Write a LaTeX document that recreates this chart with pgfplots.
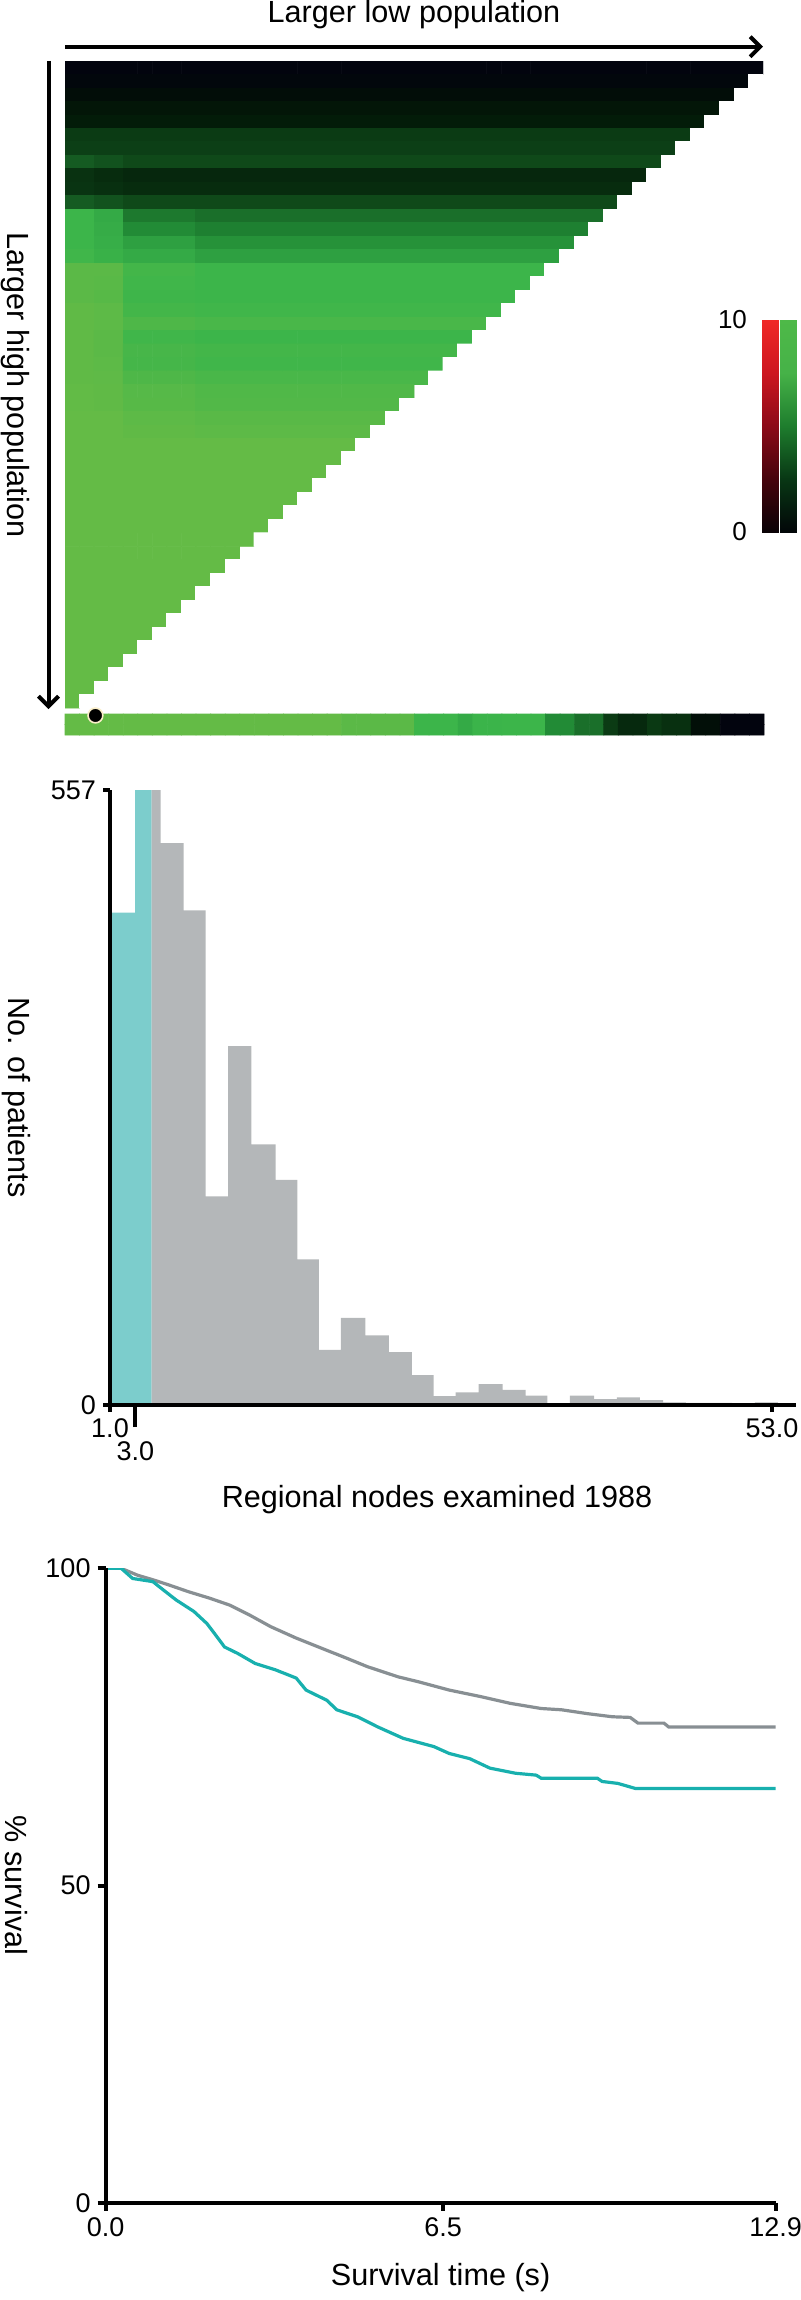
\documentclass[border=0pt]{standalone}
\usepackage{pgfplots}
\pgfplotsset{compat=1.18}
\usepackage{fontspec}
\setmainfont{Liberation Sans}
\usetikzlibrary{arrows.meta}

\definecolor{cyanbar}{RGB}{124,205,204}
\definecolor{graybar}{RGB}{180,183,185}
\definecolor{tealline}{RGB}{24,176,174}
\definecolor{grayline}{RGB}{136,143,147}

% value -1 = empty cell (white), 0..10 = black to green
\pgfplotsset{
  colormap={redbar}{rgb255=(10,2,6) rgb255=(70,3,12) rgb255=(140,10,24) rgb255=(205,22,32) rgb255=(240,40,38)},
  colormap={greenbar}{rgb255=(2,6,8) rgb255=(8,55,20) rgb255=(30,125,45) rgb255=(70,178,72) rgb255=(78,185,72)},
  colormap={heat}{rgb255=(255,255,255) rgb255=(2,4,14) rgb255=(2,12,8) rgb255=(3,26,8) rgb255=(8,48,16) rgb255=(14,70,24) rgb255=(24,100,38) rgb255=(32,135,52) rgb255=(52,170,70) rgb255=(60,181,74) rgb255=(82,184,72) rgb255=(100,187,70)},
}

\newcommand\lbl{\fontsize{15.3}{18}\selectfont}
\newcommand\tck{\fontsize{13.5}{16}\selectfont}

\begin{document}
\begin{tikzpicture}

% ---------- panel 1: cut-point matrix ----------
\node[anchor=base, font=\lbl] at (207pt,-11.5pt) {Larger low population};
\draw[line width=2pt, -{Straight Barb[length=5pt,width=10pt]}] (32.5pt,-23.35pt) -- (381.5pt,-23.35pt);
\draw[line width=2pt, -{Straight Barb[length=5pt,width=10pt]}] (24.25pt,-30.5pt) -- (24.25pt,-354.5pt);
\node[font=\lbl, rotate=-90] at (7.5pt,-192.5pt) {Larger high population};

\begin{axis}[
  at={(32.5pt,-30.5pt)}, anchor=north west,
  width=349pt, height=323.5pt, scale only axis, hide axis,
  xmin=-0.5, xmax=47.5, ymin=-0.5, ymax=47.5, y dir=reverse,
  colormap name=heat, point meta min=-1, point meta max=10,
]
% rows 0-23
\addplot[matrix plot*, mesh/cols=48, mesh/rows=24, point meta=explicit]
  table[header=false, row sep=\\, x expr={\coordindex-48*floor((\coordindex+0.5)/48)}, y expr={floor((\coordindex+0.5)/48)}, meta index=0] {
0\\0\\0\\0\\0\\0\\0\\0\\ 0\\0\\0\\0\\0\\0\\0\\0\\ 0\\0\\0\\0\\0\\0\\0\\0\\ 0\\0\\0\\0\\0\\0\\0\\0\\ 0\\0\\0\\0\\0\\0\\0\\0\\ 0\\0\\0\\0\\0\\0\\0\\0\\
0.4\\0.4\\0.4\\0.4\\0.4\\0.4\\0.4\\0.4\\ 0.4\\0.4\\0.4\\0.4\\0.4\\0.4\\0.4\\0.4\\ 0.4\\0.4\\0.4\\0.4\\0.4\\0.4\\0.4\\0.4\\ 0.4\\0.4\\0.4\\0.4\\0.4\\0.4\\0.4\\0.4\\ 0.4\\0.4\\0.4\\0.4\\0.4\\0.4\\0.4\\0.4\\ 0.4\\0.4\\0.4\\0.4\\0.4\\0.4\\0.4\\ -1\\
1.1\\1.1\\1.1\\1.1\\1.1\\1.1\\1.1\\1.1\\ 1.1\\1.1\\1.1\\1.1\\1.1\\1.1\\1.1\\1.1\\ 1.1\\1.1\\1.1\\1.1\\1.1\\1.1\\1.1\\1.1\\ 1.1\\1.1\\1.1\\1.1\\1.1\\1.1\\1.1\\1.1\\ 1.1\\1.1\\1.1\\1.1\\1.1\\1.1\\1.1\\1.1\\ 1.1\\1.1\\1.1\\1.1\\1.1\\1.1\\ -1\\-1\\
1.7\\1.7\\1.7\\1.7\\1.7\\1.7\\1.7\\1.7\\ 1.7\\1.7\\1.7\\1.7\\1.7\\1.7\\1.7\\1.7\\ 1.7\\1.7\\1.7\\1.7\\1.7\\1.7\\1.7\\1.7\\ 1.7\\1.7\\1.7\\1.7\\1.7\\1.7\\1.7\\1.7\\ 1.7\\1.7\\1.7\\1.7\\1.7\\1.7\\1.7\\1.7\\ 1.7\\1.7\\1.7\\1.7\\1.7\\ -1\\-1\\-1\\
2.1\\2.1\\2.1\\2.1\\2.1\\2.1\\2.1\\2.1\\ 2.1\\2.1\\2.1\\2.1\\2.1\\2.1\\2.1\\2.1\\ 2.1\\2.1\\2.1\\2.1\\2.1\\2.1\\2.1\\2.1\\ 2.1\\2.1\\2.1\\2.1\\2.1\\2.1\\2.1\\2.1\\ 2.1\\2.1\\2.1\\2.1\\2.1\\2.1\\2.1\\2.1\\ 2.1\\2.1\\2.1\\2.1\\ -1\\-1\\-1\\-1\\
3.5\\3.5\\3.5\\3.5\\3.5\\3.5\\3.5\\3.5\\ 3.5\\3.5\\3.5\\3.5\\3.5\\3.5\\3.5\\3.5\\ 3.5\\3.5\\3.5\\3.5\\3.5\\3.5\\3.5\\3.5\\ 3.5\\3.5\\3.5\\3.5\\3.5\\3.5\\3.5\\3.5\\ 3.5\\3.5\\3.5\\3.5\\3.5\\3.5\\3.5\\3.5\\ 3.5\\3.5\\3.5\\ -1\\-1\\-1\\-1\\-1\\
3.7\\3.7\\3.7\\3.7\\3.7\\3.7\\3.7\\3.7\\ 3.7\\3.7\\3.7\\3.7\\3.7\\3.7\\3.7\\3.7\\ 3.7\\3.7\\3.7\\3.7\\3.7\\3.7\\3.7\\3.7\\ 3.7\\3.7\\3.7\\3.7\\3.7\\3.7\\3.7\\3.7\\ 3.7\\3.7\\3.7\\3.7\\3.7\\3.7\\3.7\\3.7\\ 3.7\\3.7\\ -1\\-1\\-1\\-1\\-1\\-1\\
4.7\\4.7\\4.4\\4.4\\ 4.1\\4.1\\4.1\\4.1\\4.1\\4.1\\4.1\\4.1\\ 4.1\\4.1\\4.1\\4.1\\4.1\\4.1\\4.1\\4.1\\ 4.1\\4.1\\4.1\\4.1\\4.1\\4.1\\4.1\\4.1\\ 4.1\\4.1\\4.1\\4.1\\4.1\\4.1\\4.1\\4.1\\ 4.1\\4.1\\4.1\\4.1\\4.1\\ -1\\-1\\-1\\-1\\-1\\-1\\-1\\
3.1\\3.1\\2.8\\2.8\\ 2.6\\2.6\\2.6\\2.6\\2.6\\2.6\\2.6\\2.6\\ 2.6\\2.6\\2.6\\2.6\\2.6\\2.6\\2.6\\2.6\\ 2.6\\2.6\\2.6\\2.6\\2.6\\2.6\\2.6\\2.6\\ 2.6\\2.6\\2.6\\2.6\\2.6\\2.6\\2.6\\2.6\\ 2.6\\2.6\\2.6\\2.6\\ -1\\-1\\-1\\-1\\-1\\-1\\-1\\-1\\
3.2\\3.2\\3\\3\\ 2.8\\2.8\\2.8\\2.8\\2.8\\2.8\\2.8\\2.8\\ 2.8\\2.8\\2.8\\2.8\\2.8\\2.8\\2.8\\2.8\\ 2.8\\2.8\\2.8\\2.8\\2.8\\2.8\\2.8\\2.8\\ 2.8\\2.8\\2.8\\2.8\\2.8\\2.8\\2.8\\2.8\\ 2.8\\2.8\\2.8\\ -1\\-1\\-1\\-1\\-1\\-1\\-1\\-1\\-1\\
4.7\\4.7\\4.4\\4.4\\ 4.1\\4.1\\4.1\\4.1\\4.1\\4.1\\4.1\\4.1\\ 4.1\\4.1\\4.1\\4.1\\4.1\\4.1\\4.1\\4.1\\ 4.1\\4.1\\4.1\\4.1\\4.1\\4.1\\4.1\\4.1\\ 4.1\\4.1\\4.1\\4.1\\4.1\\4.1\\4.1\\4.1\\ 4.1\\4.1\\ -1\\-1\\-1\\-1\\-1\\-1\\-1\\-1\\-1\\-1\\
8\\8\\7\\7\\ 5.6\\5.6\\5.6\\5.6\\5.6\\ 5.3\\5.3\\5.3\\5.3\\5.3\\5.3\\5.3\\5.3\\ 5.3\\5.3\\5.3\\5.3\\5.3\\5.3\\5.3\\5.3\\ 5.3\\5.3\\5.3\\5.3\\5.3\\5.3\\5.3\\5.3\\ 5.3\\5.3\\5.3\\5.3\\ -1\\-1\\-1\\-1\\-1\\-1\\-1\\-1\\ -1\\-1\\-1\\
8\\8\\7.2\\7.2\\ 6.1\\6.1\\6.1\\6.1\\6.1\\ 5.8\\5.8\\5.8\\5.8\\5.8\\5.8\\5.8\\5.8\\ 5.8\\5.8\\5.8\\5.8\\5.8\\5.8\\5.8\\5.8\\ 5.8\\5.8\\5.8\\5.8\\5.8\\5.8\\5.8\\5.8\\ 5.8\\5.8\\5.8\\ -1\\-1\\-1\\-1\\-1\\-1\\-1\\-1\\ -1\\-1\\-1\\-1\\
8\\8\\7.4\\7.4\\ 6.7\\6.7\\6.7\\6.7\\6.7\\ 6.3\\6.3\\6.3\\6.3\\6.3\\6.3\\6.3\\6.3\\ 6.3\\6.3\\6.3\\6.3\\6.3\\6.3\\6.3\\6.3\\ 6.3\\6.3\\6.3\\6.3\\6.3\\6.3\\6.3\\6.3\\ 6.3\\6.3\\ -1\\-1\\-1\\-1\\-1\\-1\\-1\\-1\\ -1\\-1\\-1\\-1\\-1\\
8.2\\8.2\\7.6\\7.6\\ 7\\7\\7\\7\\7\\ 6.7\\6.7\\6.7\\6.7\\6.7\\6.7\\6.7\\6.7\\ 6.7\\6.7\\6.7\\6.7\\6.7\\6.7\\6.7\\6.7\\ 6.7\\6.7\\6.7\\6.7\\6.7\\6.7\\6.7\\6.7\\ 6.7\\ -1\\-1\\-1\\-1\\-1\\-1\\-1\\-1\\ -1\\-1\\-1\\-1\\-1\\-1\\
9.5\\9.5\\9.5\\9.5\\ 8.3\\8.3\\8.3\\8.3\\8.3\\ 8\\8\\8\\8\\8\\8\\8\\8\\ 8\\8\\8\\8\\8\\8\\8\\8\\ 8\\8\\8\\8\\8\\8\\8\\8\\ -1\\-1\\-1\\-1\\-1\\-1\\-1\\-1\\ -1\\-1\\-1\\-1\\-1\\-1\\-1\\
9.5\\9.5\\9.4\\9.4\\ 8.2\\8.2\\8.2\\8.2\\8.2\\ 8\\8\\8\\8\\8\\8\\8\\8\\ 8\\8\\8\\8\\8\\8\\8\\8\\ 8\\8\\8\\8\\8\\8\\8\\ -1\\-1\\-1\\-1\\-1\\-1\\-1\\-1\\ -1\\-1\\-1\\-1\\-1\\-1\\-1\\-1\\
9.5\\9.5\\9.3\\9.3\\ 8.1\\8.1\\8.1\\8.1\\8.1\\ 8\\8\\8\\8\\8\\8\\8\\8\\ 8\\8\\8\\8\\8\\8\\8\\8\\ 8\\8\\8\\8\\8\\8\\ -1\\-1\\-1\\-1\\-1\\-1\\-1\\-1\\ -1\\-1\\-1\\-1\\-1\\-1\\-1\\-1\\ -1\\
9.8\\9.8\\9.6\\9.6\\ 8.3\\8.3\\8.3\\8.3\\8.3\\ 8.2\\8.2\\8.2\\8.2\\8.2\\8.2\\8.2\\8.2\\ 8.2\\8.2\\8.2\\8.2\\8.2\\8.2\\8.2\\8.2\\ 8.2\\8.2\\8.2\\8.2\\8.2\\ -1\\-1\\-1\\-1\\-1\\-1\\-1\\-1\\ -1\\-1\\-1\\-1\\-1\\-1\\-1\\-1\\ -1\\-1\\
9.8\\9.8\\9.6\\9.6\\ 8.8\\8.8\\8.8\\8.8\\8.8\\ 8.6\\8.6\\8.6\\8.6\\8.6\\8.6\\8.6\\8.6\\ 8.6\\8.6\\8.6\\8.6\\8.6\\8.6\\8.6\\8.6\\ 8.6\\8.6\\8.6\\8.6\\ -1\\-1\\-1\\-1\\-1\\-1\\-1\\-1\\ -1\\-1\\-1\\-1\\-1\\-1\\-1\\-1\\ -1\\-1\\-1\\
9.8\\9.8\\9.5\\9.5\\ 8.2\\8.2\\8.2\\8.2\\8.2\\ 8\\8\\8\\8\\8\\8\\8\\8\\ 8\\8\\8\\8\\8\\8\\8\\8\\ 8\\8\\8\\ -1\\-1\\-1\\-1\\-1\\-1\\-1\\-1\\ -1\\-1\\-1\\-1\\-1\\-1\\-1\\-1\\ -1\\-1\\-1\\-1\\
9.8\\9.8\\9.5\\9.5\\ 8.5\\8.5\\8.5\\8.5\\8.5\\ 8.3\\8.3\\8.3\\8.3\\8.3\\8.3\\8.3\\8.3\\ 8.3\\8.3\\8.3\\8.3\\8.3\\8.3\\8.3\\8.3\\ 8.3\\8.3\\ -1\\-1\\-1\\-1\\-1\\-1\\-1\\-1\\ -1\\-1\\-1\\-1\\-1\\-1\\-1\\-1\\ -1\\-1\\-1\\-1\\-1\\
9.8\\9.8\\9.6\\9.6\\ 8.4\\8.4\\8.4\\8.4\\8.4\\ 8.2\\8.2\\8.2\\8.2\\8.2\\8.2\\8.2\\8.2\\ 8.2\\8.2\\8.2\\8.2\\8.2\\8.2\\8.2\\8.2\\ 8.2\\ -1\\-1\\-1\\-1\\-1\\-1\\-1\\-1\\ -1\\-1\\-1\\-1\\-1\\-1\\-1\\-1\\ -1\\-1\\-1\\-1\\-1\\-1\\
9.8\\9.8\\9.7\\9.7\\ 8.8\\8.8\\8.8\\8.8\\8.8\\ 8.6\\8.6\\8.6\\8.6\\8.6\\8.6\\8.6\\8.6\\ 8.6\\8.6\\8.6\\8.6\\8.6\\8.6\\8.6\\8.6\\ -1\\-1\\-1\\-1\\-1\\-1\\-1\\-1\\ -1\\-1\\-1\\-1\\-1\\-1\\-1\\-1\\ -1\\-1\\-1\\-1\\-1\\-1\\-1\\
};
% rows 24-35, columns 0-23
\addplot[matrix plot*, mesh/cols=24, mesh/rows=12, point meta=explicit]
  table[header=false, row sep=\\, x expr={\coordindex-24*floor((\coordindex+0.5)/24)}, y expr={24+floor((\coordindex+0.5)/24)}, meta index=0] {
9.9\\9.9\\9.8\\9.8\\ 9.2\\9.2\\9.2\\9.2\\9.2\\ 8.9\\8.9\\8.9\\8.9\\8.9\\8.9\\8.9\\8.9\\ 8.9\\8.9\\8.9\\8.9\\8.9\\8.9\\8.9\\
9.9\\9.9\\9.8\\9.8\\ 9.3\\9.3\\9.3\\9.3\\9.3\\ 9\\9\\9\\9\\9\\9\\9\\9\\ 9\\9\\9\\9\\9\\9\\ -1\\
10\\10\\10\\10\\ 9.6\\9.6\\9.6\\9.6\\9.6\\ 9.4\\9.4\\9.4\\9.4\\9.4\\9.4\\9.4\\9.4\\ 9.4\\9.4\\9.4\\9.4\\9.4\\ -1\\-1\\
10\\10\\10\\10\\ 9.8\\9.8\\9.8\\9.8\\9.8\\ 9.6\\9.6\\9.6\\9.6\\9.6\\9.6\\9.6\\9.6\\ 9.6\\9.6\\9.6\\9.6\\ -1\\-1\\-1\\
10\\10\\10\\10\\10\\10\\10\\10\\ 10\\10\\10\\10\\10\\10\\10\\10\\ 10\\10\\10\\10\\ -1\\-1\\-1\\-1\\
10\\10\\10\\10\\10\\10\\10\\10\\ 10\\10\\10\\10\\10\\10\\10\\10\\ 10\\10\\10\\ -1\\-1\\-1\\-1\\-1\\
10\\10\\10\\10\\10\\10\\10\\10\\ 10\\10\\10\\10\\10\\10\\10\\10\\ 10\\10\\ -1\\-1\\-1\\-1\\-1\\-1\\
10\\10\\10\\10\\10\\10\\10\\10\\ 10\\10\\10\\10\\10\\10\\10\\10\\ 10\\ -1\\-1\\-1\\-1\\-1\\-1\\-1\\
10\\10\\10\\10\\10\\10\\10\\10\\ 10\\10\\10\\10\\10\\10\\10\\10\\ -1\\-1\\-1\\-1\\-1\\-1\\-1\\-1\\
10\\10\\10\\10\\10\\10\\10\\10\\ 10\\10\\10\\10\\10\\10\\10\\ -1\\-1\\-1\\-1\\-1\\-1\\-1\\-1\\-1\\
10\\10\\10\\10\\10\\10\\10\\10\\ 10\\10\\10\\10\\10\\10\\ -1\\-1\\-1\\-1\\-1\\-1\\-1\\-1\\-1\\-1\\
10\\10\\10\\10\\10\\10\\10\\10\\ 10\\10\\10\\10\\10\\ -1\\-1\\-1\\-1\\-1\\-1\\-1\\-1\\-1\\-1\\-1\\
};
% rows 36-47, columns 0-11
\addplot[matrix plot*, mesh/cols=12, mesh/rows=12, point meta=explicit]
  table[header=false, row sep=\\, x expr={\coordindex-12*floor((\coordindex+0.5)/12)}, y expr={36+floor((\coordindex+0.5)/12)}, meta index=0] {
10\\10\\10\\10\\10\\10\\10\\10\\10\\10\\10\\10\\
10\\10\\10\\10\\10\\10\\10\\10\\10\\10\\10\\ -1\\
10\\10\\10\\10\\10\\10\\10\\10\\10\\10\\ -1\\-1\\
10\\10\\10\\10\\10\\10\\10\\10\\10\\ -1\\-1\\-1\\
10\\10\\10\\10\\10\\10\\10\\10\\ -1\\-1\\-1\\-1\\
10\\10\\10\\10\\10\\10\\10\\ -1\\-1\\-1\\-1\\-1\\
10\\10\\10\\10\\10\\10\\ -1\\-1\\-1\\-1\\-1\\-1\\
10\\10\\10\\10\\10\\ -1\\-1\\-1\\-1\\-1\\-1\\-1\\
10\\10\\10\\10\\ -1\\-1\\-1\\-1\\-1\\-1\\-1\\-1\\
10\\10\\10\\ -1\\-1\\-1\\-1\\-1\\-1\\-1\\-1\\-1\\
10\\10\\ -1\\-1\\-1\\-1\\-1\\-1\\-1\\-1\\-1\\-1\\
10\\ -1\\-1\\-1\\-1\\-1\\-1\\-1\\-1\\-1\\-1\\-1\\
};
\end{axis}

% bottom strip and marked cut point
\begin{axis}[
  at={(32.5pt,-367.5pt)}, anchor=south west,
  width=349.5pt, height=10.5pt, scale only axis, hide axis, clip=false,
  xmin=-0.5, xmax=47.5, ymin=-0.5, ymax=1.5,
  colormap name=heat, point meta min=-1, point meta max=10,
]
\addplot[matrix plot*, mesh/cols=48, mesh/rows=2, point meta=explicit]
  table[header=false, row sep=\\, x expr={\coordindex-48*floor((\coordindex+0.5)/48)}, y expr={floor((\coordindex+0.5)/48)}, meta index=0] {
10\\10\\10\\10\\10\\10\\10\\10\\ 10\\10\\10\\10\\10\\10\\10\\10\\ 10\\10\\10\\ 9.5\\9.5\\9.5\\9.5\\9.5\\ 8\\8\\8\\ 7\\ 7.9\\7.9\\ 8\\8\\8\\ 6.1\\6.1\\ 5.3\\5.3\\ 3.5\\ 2.7\\2.7\\ 3.4\\ 3\\3\\ 1.2\\1.2\\ 0\\0\\0\\
10\\10\\10\\10\\10\\10\\10\\10\\ 10\\10\\10\\10\\10\\10\\10\\10\\ 10\\10\\10\\ 9.5\\9.5\\9.5\\9.5\\9.5\\ 8\\8\\8\\ 7\\ 7.9\\7.9\\ 8\\8\\8\\ 6.1\\6.1\\ 5.3\\5.3\\ 3.5\\ 2.7\\2.7\\ 3.4\\ 3\\3\\ 1.2\\1.2\\ 0\\0\\0\\
};
\addplot[only marks, mark=*, mark size=3.7pt,
  mark options={fill=black, draw={rgb,255:red,250;green,238;blue,200}, line width=0.8pt}]
  coordinates {(1.59,1.36)};
\end{axis}

% colour key
\begin{axis}[
  at={(381pt,-266pt)}, anchor=south west,
  width=17pt, height=106pt, scale only axis, enlargelimits=false,
  xmin=0, xmax=34, ymin=0, ymax=10,
  axis line style={draw=none}, tick style={draw=none}, major tick length=0pt,
  xtick=\empty, ytick={0,10}, yticklabels={0,10},
  yticklabel style={font=\fontsize{13}{15}\selectfont, xshift=-4pt},
  point meta min=0, point meta max=10,
]
\addplot[patch, shader=interp, colormap name=redbar, point meta=explicit]
  coordinates {
  (0,0) [0] (16,0) [0] (16,2.5) [2.5]   (0,0) [0] (16,2.5) [2.5] (0,2.5) [2.5]
  (0,2.5) [2.5] (16,2.5) [2.5] (16,5) [5]   (0,2.5) [2.5] (16,5) [5] (0,5) [5]
  (0,5) [5] (16,5) [5] (16,7.5) [7.5]   (0,5) [5] (16,7.5) [7.5] (0,7.5) [7.5]
  (0,7.5) [7.5] (16,7.5) [7.5] (16,10) [10]   (0,7.5) [7.5] (16,10) [10] (0,10) [10]};
\addplot[patch, shader=interp, colormap name=greenbar, point meta=explicit]
  coordinates {
  (18,0) [0] (34,0) [0] (34,2.5) [2.5]   (18,0) [0] (34,2.5) [2.5] (18,2.5) [2.5]
  (18,2.5) [2.5] (34,2.5) [2.5] (34,5) [5]   (18,2.5) [2.5] (34,5) [5] (18,5) [5]
  (18,5) [5] (34,5) [5] (34,7.5) [7.5]   (18,5) [5] (34,7.5) [7.5] (18,7.5) [7.5]
  (18,7.5) [7.5] (34,7.5) [7.5] (34,10) [10]   (18,7.5) [7.5] (34,10) [10] (18,10) [10]};
\end{axis}

% ---------- panel 2: histogram ----------
\begin{axis}[
  at={(55pt,-702.5pt)}, anchor=south west,
  width=343pt, height=307.5pt, scale only axis,
  xmin=1, xmax=54.885, ymin=0, ymax=557,
  axis x line*=bottom, axis y line*=left, axis on top,
  axis line style={line width=2pt},
  tick style={line width=2pt, black}, tick align=outside, major tick length=3.5pt,
  xtick={1,53}, xticklabels={1.0,53.0},
  ytick={0,557}, yticklabels={0,557},
  extra x ticks={3}, extra x tick labels={3.0},
  extra x tick style={major tick length=11pt, xticklabel style={yshift=-4pt}},
  tick label style={font=\tck},
  xlabel={Regional nodes examined 1988},
  ylabel={No. of patients},
  every axis x label/.style={at={(axis description cs:0.4767,0)}, anchor=base, yshift=-51pt, font=\lbl},
  every axis y label/.style={at={(axis description cs:-0.1363,0.5)}, anchor=center, rotate=-90, font=\lbl},
]
\addplot[ybar interval, fill=cyanbar, draw=none] coordinates {
  (1.0,446) (2.98,557) (4.26,0)};
\addplot[ybar interval, fill=graybar, draw=none] coordinates {
  (4.26,557) (4.98,509) (6.79,448) (8.51,189) (10.27,325) (12.11,236)
  (14.0,204) (15.72,132) (17.41,50) (19.13,79) (21.05,63) (22.90,48)
  (24.72,27) (26.43,8) (28.15,11.5) (29.95,19) (31.84,13.6) (33.64,8.5)
  (35.36,1) (37.13,8.5) (39.02,5.4) (40.82,7) (42.63,4.5) (44.44,2.4)
  (46.24,2) (48.05,2) (49.86,1) (51.66,2.5) (53.47,1) (54.8,0)};
\end{axis}

% ---------- panel 3: survival ----------
\begin{axis}[
  at={(52.8pt,-1101.35pt)}, anchor=south west,
  width=335pt, height=317.2pt, scale only axis,
  xmin=0, xmax=12.9, ymin=0, ymax=100,
  axis x line*=bottom, axis y line*=left, axis on top,
  axis line style={line width=2pt},
  tick style={line width=2pt, black}, tick align=outside, major tick length=4pt,
  xtick={0,6.5,12.9}, xticklabels={0.0,6.5,12.9},
  ytick={0,50,100}, yticklabels={0,50,100},
  tick label style={font=\tck},
  xlabel={Survival time (s)},
  ylabel={\% survival},
  every axis x label/.style={at={(axis description cs:0.5,0)}, anchor=base, yshift=-41.15pt, font=\lbl},
  every axis y label/.style={at={(axis description cs:-0.1329,0.5)}, anchor=center, rotate=-90, font=\lbl},
]
\addplot[grayline, line width=1.6pt] coordinates {
  (0,100) (0.3,100) (0.62,98.9) (0.91,98.2) (1.21,97.4) (1.60,96.3) (2.0,95.3)
  (2.39,94.2) (2.78,92.6) (3.18,90.8) (3.67,89.0) (4.16,87.4) (4.65,85.8)
  (5.04,84.5) (5.63,82.9) (6.03,82.1) (6.62,80.8) (7.21,79.8) (7.80,78.7)
  (8.39,77.9) (8.78,77.7) (9.27,77.1) (9.76,76.6) (10.10,76.5) (10.25,75.6)
  (10.75,75.6) (10.84,75.0) (12.9,75.0)};
\addplot[tealline, line width=1.6pt] coordinates {
  (0,100) (0.3,100) (0.52,98.4) (0.91,97.9) (1.11,96.6) (1.36,95.0) (1.70,93.2)
  (1.95,91.3) (2.09,89.8) (2.29,87.6) (2.54,86.6) (2.88,85.0) (3.27,84.0)
  (3.67,82.7) (3.86,80.8) (4.26,79.2) (4.45,77.7) (4.85,76.6) (5.24,75.0)
  (5.73,73.2) (6.32,71.9) (6.62,70.8) (7.01,70.0) (7.40,68.5) (7.89,67.7)
  (8.29,67.4) (8.39,66.9) (9.47,66.9) (9.56,66.4) (9.86,66.1) (10.20,65.3)
  (12.9,65.3)};
\end{axis}

\pgfresetboundingbox
\path[use as bounding box] (0,0) rectangle (400pt,-1150pt);
\end{tikzpicture}
\end{document}
